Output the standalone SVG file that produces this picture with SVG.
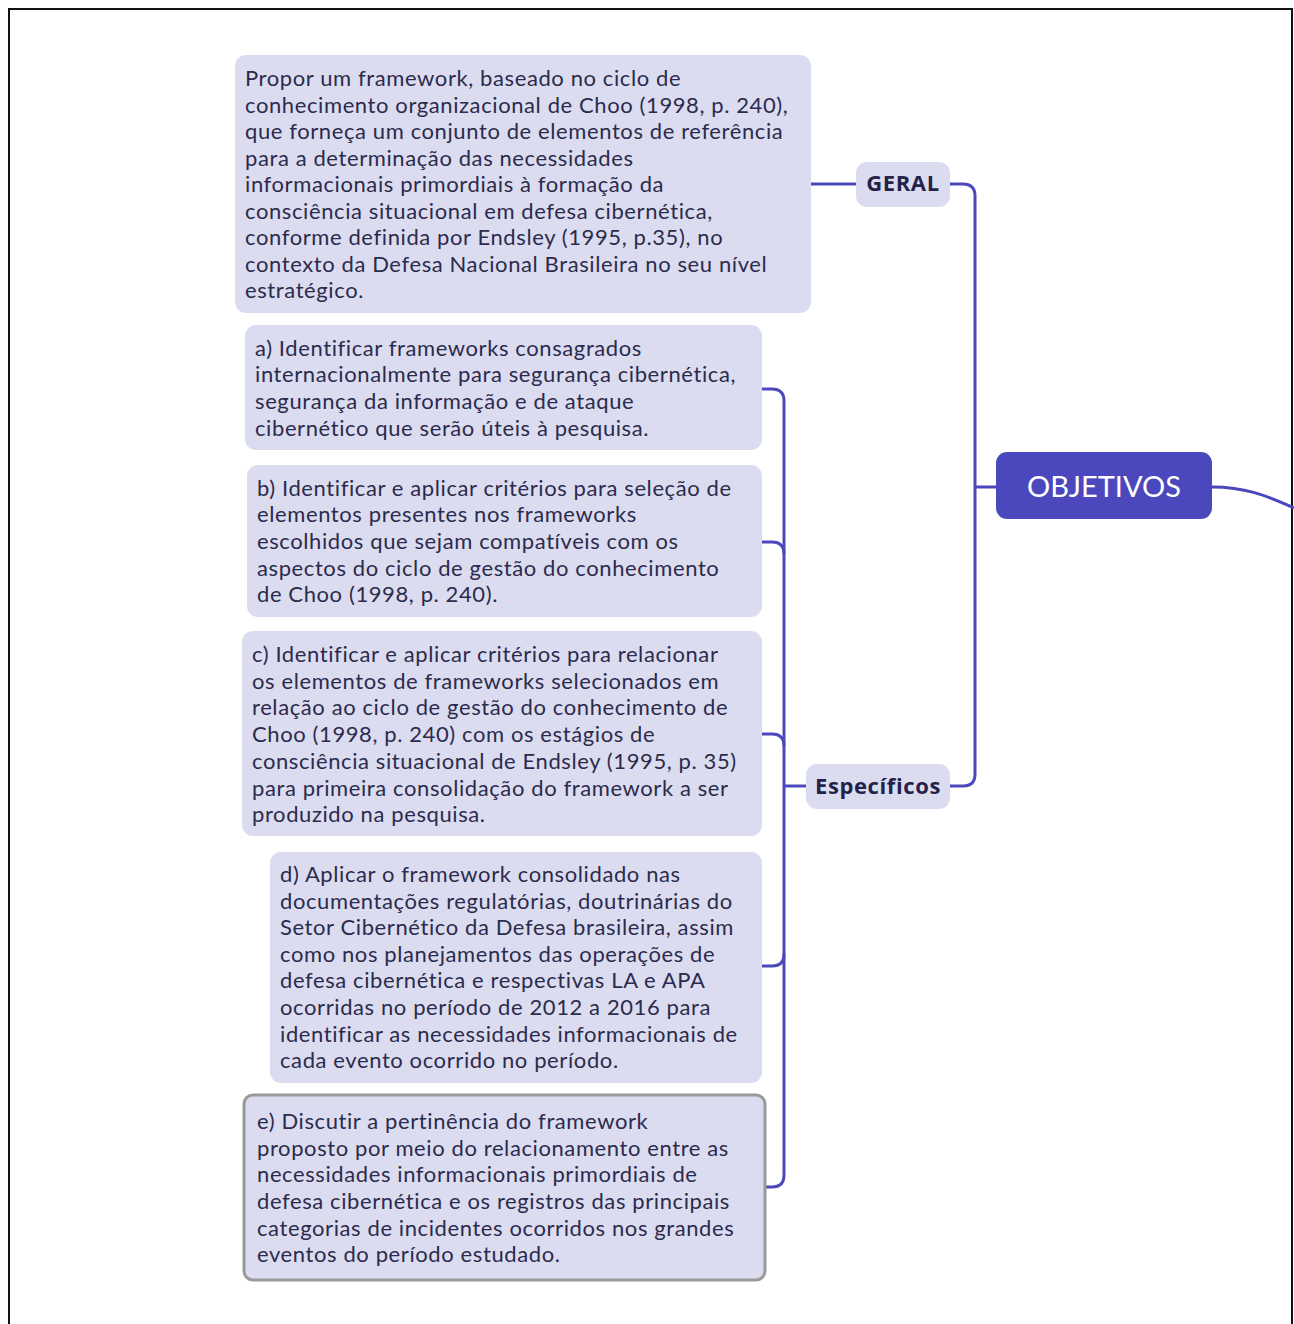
<svg xmlns="http://www.w3.org/2000/svg" width="1294" height="1324" viewBox="0 0 1294 1324">
  <defs>
    <style>
      .leaf { fill: #dcdcf0; }
      .txt { font-family: Lato, "Liberation Sans", sans-serif; font-size: 22px; letter-spacing: 0.6px; fill: #2b2b4d; }
      .lbl { font-family: "Open Sans", "Liberation Sans", sans-serif; font-size: 22px; font-weight: bold; letter-spacing: 0.6px; fill: #23234a; text-anchor: middle; }
      .root { font-family: Lato, "Liberation Sans", sans-serif; font-size: 29px; fill: #ffffff; text-anchor: middle; }
      .link { fill: none; stroke: #4b48bd; stroke-width: 3; }
    </style>
  </defs>

  <rect x="0" y="0" width="1294" height="1324" fill="#ffffff"/>
  <!-- page frame -->
  <rect x="9" y="9" width="1283" height="1330" fill="none" stroke="#111111" stroke-width="2"/>

  <g id="connectors">
    <!-- OBJETIVOS to the right -->
    <path class="link" d="M1212,487 C1245,487 1265,495 1294,508"/>
    <!-- OBJETIVOS to its branches -->
    <path class="link" d="M996,487 H975"/>
    <path class="link" d="M950,184 H963 Q975,184 975,196 V774 Q975,786 963,786 H950"/>
    <!-- GERAL to its text -->
    <path class="link" d="M856,184 H811"/>
    <!-- Específicos to its items -->
    <path class="link" d="M806,786 H784"/>
    <path class="link" d="M762,389 H772 Q784,389 784,401 V1175 Q784,1187 772,1187 H762"/>
    <path class="link" d="M762,542 H772 Q784,542 784,554"/>
    <path class="link" d="M762,734 H772 Q784,734 784,746"/>
    <path class="link" d="M762,966 H772 Q784,966 784,954"/>
  </g>

  <g id="objetivos">
    <rect x="996" y="452" width="216" height="67" rx="11" fill="#4b48bd"/>
    <text class="root" x="1104" y="497">OBJETIVOS</text>
  </g>

  <g id="geral">
    <rect class="leaf" x="856" y="162" width="94" height="45" rx="11"/>
    <text class="lbl" x="903" y="191">GERAL</text>
  </g>

  <g id="especificos">
    <rect class="leaf" x="806" y="764" width="144" height="45" rx="11"/>
    <text class="lbl" x="878" y="794">Específicos</text>
  </g>

  <g id="geral-texto">
    <rect class="leaf" x="235" y="55" width="576" height="258" rx="11"/>
    <text class="txt" x="245">
      <tspan x="245" y="86">Propor um framework, baseado no ciclo de</tspan>
      <tspan x="245" y="113">conhecimento organizacional de Choo (1998, p. 240),</tspan>
      <tspan x="245" y="139">que forneça um conjunto de elementos de referência</tspan>
      <tspan x="245" y="166">para a determinação das necessidades</tspan>
      <tspan x="245" y="192">informacionais primordiais à formação da</tspan>
      <tspan x="245" y="219">consciência situacional em defesa cibernética,</tspan>
      <tspan x="245" y="245">conforme definida por Endsley (1995, p.35), no</tspan>
      <tspan x="245" y="272">contexto da Defesa Nacional Brasileira no seu nível</tspan>
      <tspan x="245" y="298">estratégico.</tspan>
    </text>
  </g>

  <g id="item-a">
    <rect class="leaf" x="245" y="325" width="517" height="125" rx="11"/>
    <text class="txt">
      <tspan x="255" y="356">a) Identificar frameworks consagrados</tspan>
      <tspan x="255" y="382">internacionalmente para segurança cibernética,</tspan>
      <tspan x="255" y="409">segurança da informação e de ataque</tspan>
      <tspan x="255" y="436">cibernético que serão úteis à pesquisa.</tspan>
    </text>
  </g>

  <g id="item-b">
    <rect class="leaf" x="247" y="465" width="515" height="152" rx="11"/>
    <text class="txt">
      <tspan x="257" y="496">b) Identificar e aplicar critérios para seleção de</tspan>
      <tspan x="257" y="522">elementos presentes nos frameworks</tspan>
      <tspan x="257" y="549">escolhidos que sejam compatíveis com os</tspan>
      <tspan x="257" y="576">aspectos do ciclo de gestão do conhecimento</tspan>
      <tspan x="257" y="602">de Choo (1998, p. 240).</tspan>
    </text>
  </g>

  <g id="item-c">
    <rect class="leaf" x="242" y="631" width="520" height="205" rx="11"/>
    <text class="txt">
      <tspan x="252" y="662">c) Identificar e aplicar critérios para relacionar</tspan>
      <tspan x="252" y="689">os elementos de frameworks selecionados em</tspan>
      <tspan x="252" y="715">relação ao ciclo de gestão do conhecimento de</tspan>
      <tspan x="252" y="742">Choo (1998, p. 240) com os estágios de</tspan>
      <tspan x="252" y="769">consciência situacional de Endsley (1995, p. 35)</tspan>
      <tspan x="252" y="796">para primeira consolidação do framework a ser</tspan>
      <tspan x="252" y="822">produzido na pesquisa.</tspan>
    </text>
  </g>

  <g id="item-d">
    <rect class="leaf" x="270" y="852" width="492" height="231" rx="11"/>
    <text class="txt">
      <tspan x="280" y="882">d) Aplicar o framework consolidado nas</tspan>
      <tspan x="280" y="909">documentações regulatórias, doutrinárias do</tspan>
      <tspan x="280" y="935">Setor Cibernético da Defesa brasileira, assim</tspan>
      <tspan x="280" y="962">como nos planejamentos das operações de</tspan>
      <tspan x="280" y="988">defesa cibernética e respectivas LA e APA</tspan>
      <tspan x="280" y="1015">ocorridas no período de 2012 a 2016 para</tspan>
      <tspan x="280" y="1042">identificar as necessidades informacionais de</tspan>
      <tspan x="280" y="1068">cada evento ocorrido no período.</tspan>
    </text>
  </g>

  <g id="item-e">
    <rect class="leaf" x="244" y="1095" width="521" height="185" rx="9" stroke="#9a9a9a" stroke-width="3"/>
    <text class="txt">
      <tspan x="257" y="1129">e) Discutir a pertinência do framework</tspan>
      <tspan x="257" y="1156">proposto por meio do relacionamento entre as</tspan>
      <tspan x="257" y="1182">necessidades informacionais primordiais de</tspan>
      <tspan x="257" y="1209">defesa cibernética e os registros das principais</tspan>
      <tspan x="257" y="1236">categorias de incidentes ocorridos nos grandes</tspan>
      <tspan x="257" y="1262">eventos do período estudado.</tspan>
    </text>
  </g>
</svg>
